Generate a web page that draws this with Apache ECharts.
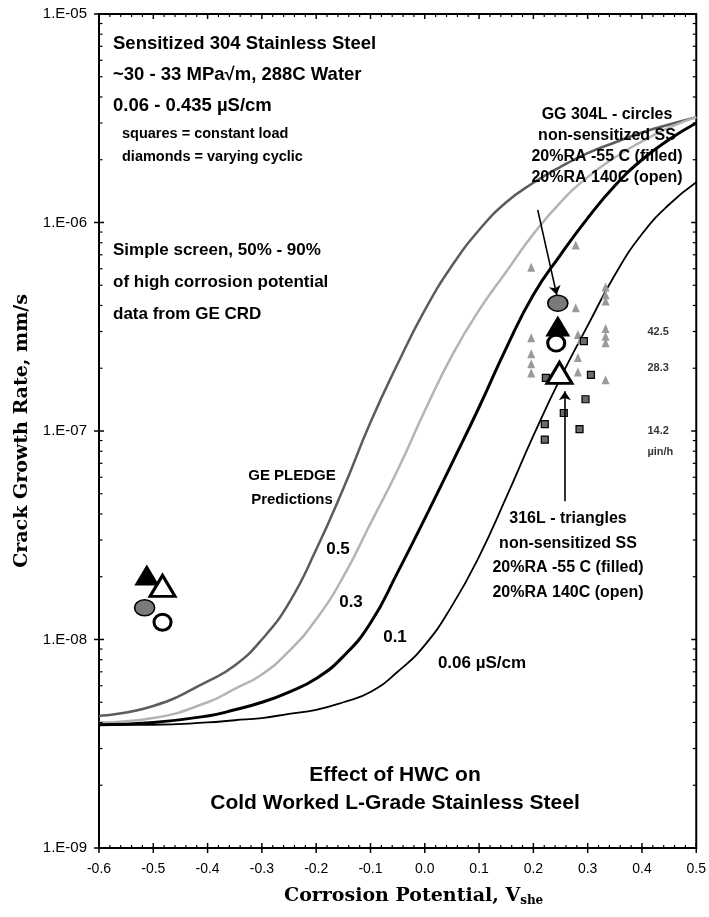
<!DOCTYPE html>
<html>
<head>
<meta charset="utf-8">
<script src="https://cdn.jsdelivr.net/npm/echarts@6/dist/echarts.min.js"></script>
<style>
  html, body { margin: 0; padding: 0; background: #fff; }
  #chart { width: 709px; height: 917px; }
</style>
</head>
<body>
<div id="chart"></div>
<script>
// Corrosion potential grid (V she) for the PLEDGE prediction curves
const potentials = [-0.6, -0.5, -0.4, -0.35, -0.3, -0.25, -0.2, -0.15, -0.1, -0.05, 0, 0.05, 0.1, 0.15, 0.2, 0.25, 0.3, 0.35, 0.4, 0.45, 0.5];
// Predicted crack growth rate (mm/s) for each water conductivity
const pledge05  = [4.3e-9, 4.8e-9, 6.3e-9, 7.5e-9, 1.0e-8, 1.5e-8, 2.7e-8, 5.3e-8, 1.1e-7, 2.1e-7, 3.8e-7, 6.2e-7, 9.2e-7, 1.25e-6, 1.55e-6, 1.85e-6, 2.15e-6, 2.42e-6, 2.7e-6, 2.95e-6, 3.2e-6];
const pledge03  = [4.0e-9, 4.2e-9, 5.0e-9, 5.8e-9, 6.8e-9, 8.8e-9, 1.25e-8, 2.0e-8, 3.6e-8, 6.5e-8, 1.25e-7, 2.3e-7, 3.8e-7, 5.8e-7, 8.8e-7, 1.25e-6, 1.65e-6, 2.05e-6, 2.45e-6, 2.85e-6, 3.2e-6];
const pledge01  = [3.9e-9, 4.0e-9, 4.3e-9, 4.6e-9, 5.0e-9, 5.6e-9, 6.5e-9, 8.3e-9, 1.2e-8, 2.1e-8, 3.8e-8, 7.0e-8, 1.3e-7, 2.5e-7, 4.5e-7, 7.0e-7, 1.05e-6, 1.5e-6, 2.0e-6, 2.5e-6, 3.0e-6];
const pledge006 = [3.9e-9, 3.9e-9, 4.0e-9, 4.1e-9, 4.2e-9, 4.4e-9, 4.6e-9, 5.0e-9, 5.6e-9, 7.0e-9, 9.4e-9, 1.45e-8, 2.5e-8, 4.8e-8, 9.5e-8, 1.8e-7, 3.2e-7, 5.6e-7, 8.8e-7, 1.22e-6, 1.56e-6];

// GE CRD high-potential screening data, sensitized 304 SS
const crdCyclicData = [
  [0.278, 7.8e-7], [0.196, 6.1e-7], [0.333, 4.9e-7], [0.333, 4.5e-7], [0.333, 4.2e-7],
  [0.278, 3.9e-7], [0.196, 2.8e-7], [0.282, 2.9e-7], [0.287, 2.75e-7], [0.333, 3.1e-7],
  [0.333, 2.85e-7], [0.333, 2.65e-7], [0.196, 2.35e-7], [0.196, 2.1e-7], [0.196, 1.9e-7],
  [0.282, 2.25e-7], [0.282, 1.92e-7], [0.333, 1.76e-7]
];
const crdConstantData = [
  [0.251, 2.64e-7], [0.293, 2.7e-7], [0.306, 1.86e-7], [0.223, 1.8e-7], [0.296, 1.42e-7],
  [0.256, 1.22e-7], [0.221, 1.08e-7], [0.285, 1.02e-7], [0.221, 9.1e-8]
];

// Cold worked L-grade specimens
const gg304LFilled = [[-0.516, 1.42e-8], [0.245, 4.1e-7]];
const gg304LOpen   = [[-0.483, 1.21e-8], [0.242, 2.64e-7]];
const t316LFilled  = [[-0.512, 2.04e-8], [0.245, 3.19e-7]];
const t316LOpen    = [[-0.483, 1.81e-8], [0.248, 1.9e-7]];

// Reference growth rates in micro-inch per hour
const rateMarksUinH = [42.5, 28.3, 14.2];

// Axis ticks
const xTickValues = [-0.6, -0.5, -0.4, -0.3, -0.2, -0.1, 0.0, 0.1, 0.2, 0.3, 0.4, 0.5];
const yDecades = [1e-9, 1e-8, 1e-7, 1e-6, 1e-5];

const SANS = '"Liberation Sans", Arial, sans-serif';
const SERIF = '"DejaVu Serif", serif';

const pairs = (ys) => potentials.map((x, i) => [x, ys[i]]);
const toMmPerSec = (uinh) => uinh * 1e-6 * 25.4 / 3600;

function frameTicks(params, api) {
  const children = [];
  const bl = api.coord([-0.6, 1e-9]);
  const tr = api.coord([0.5, 1e-5]);
  const seg = (ax, ay, bx, by, w) => children.push({
    type: 'line', shape: { x1: ax, y1: ay, x2: bx, y2: by },
    style: { stroke: '#000', lineWidth: w }
  });
  // x axis: major ticks cross bottom, minor ticks point inward
  for (let i = 0; i < xTickValues.length; i++) {
    const px = api.coord([xTickValues[i], 1e-9])[0];
    seg(px, bl[1] - 5, px, bl[1] + 5, 1.5);
    seg(px, tr[1], px, tr[1] + 5, 1.5);
  }
  for (let k = 0; k < 55; k++) {
    if (k % 5 === 0) continue;
    const px = api.coord([-0.6 + k * 0.02, 1e-9])[0];
    seg(px, bl[1], px, bl[1] - 3, 1.2);
    seg(px, tr[1], px, tr[1] + 3, 1.2);
  }
  // y axis: decades cross left, 2..9 minors point inward
  yDecades.forEach((d) => {
    const py = api.coord([-0.6, d])[1];
    seg(bl[0] - 5, py, bl[0] + 5, py, 1.5);
    seg(tr[0], py, tr[0] - 5, py, 1.5);
  });
  for (let j = 0; j < yDecades.length - 1; j++) {
    for (let m = 2; m <= 9; m++) {
      const py = api.coord([-0.6, m * yDecades[j]])[1];
      seg(bl[0], py, bl[0] + 3.5, py, 1.2);
      seg(tr[0], py, tr[0] - 3.5, py, 1.2);
    }
  }
  return { type: 'group', children };
}

function text(str, x, y, size, align) {
  return {
    type: 'text', x, y, z: 50,
    style: {
      text: str, font: 'bold ' + size + 'px ' + SANS, fill: '#000',
      textAlign: align || 'left', textVerticalAlign: 'middle',
      align: align || 'left', verticalAlign: 'middle'
    }
  };
}

const chart = echarts.init(document.getElementById('chart'), null, { renderer: 'canvas' });

chart.setOption({
  animation: false,
  backgroundColor: '#fff',
  grid: { left: 99, right: 11, top: 14, bottom: 69, show: true, borderColor: '#000', borderWidth: 2 },
  xAxis: {
    type: 'value', min: -0.6, max: 0.5, interval: 0.1,
    axisLine: { show: true, onZero: false, lineStyle: { color: '#000', width: 2 } },
    axisTick: { show: false }, splitLine: { show: false },
    axisLabel: { color: '#000', fontFamily: SANS, fontSize: 14, margin: 14, formatter: (v) => v.toFixed(1) },
    name: '{a|Corrosion Potential, V}{s|she}', nameLocation: 'middle', nameGap: 38,
    nameTextStyle: {
      padding: [0, 0, 0, 32],
      rich: {
        a: { fontFamily: SERIF, fontWeight: 'bold', fontSize: 19, color: '#000' },
        s: { fontFamily: SERIF, fontWeight: 'bold', fontSize: 12, color: '#000', padding: [9, 0, 0, 0] }
      }
    }
  },
  yAxis: {
    type: 'log', logBase: 10, min: 1e-9, max: 1e-5,
    axisLine: { show: true, onZero: false, lineStyle: { color: '#000', width: 2 } },
    axisTick: { show: false }, splitLine: { show: false }, minorTick: { show: false },
    axisLabel: {
      color: '#000', fontFamily: SANS, fontSize: 15, margin: 12,
      formatter: (v) => '1.E-' + String(Math.round(-Math.log10(v))).padStart(2, '0')
    },
    name: 'Crack Growth Rate, mm/s', nameLocation: 'middle', nameGap: 62, nameRotate: 90,
    nameTextStyle: { fontFamily: SERIF, fontWeight: 'bold', fontSize: 19, color: '#000' }
  },
  series: [
    { name: '0.5', type: 'line', data: pairs(pledge05), smooth: true, symbol: 'none', lineStyle: { color: '#5c5c5c', width: 2.5 }, z: 3 },
    { name: '0.3', type: 'line', data: pairs(pledge03), smooth: true, symbol: 'none', lineStyle: { color: '#b4b4b4', width: 2.5 }, z: 3 },
    { name: '0.1', type: 'line', data: pairs(pledge01), smooth: true, symbol: 'none', lineStyle: { color: '#000', width: 3 }, z: 4 },
    { name: '0.06', type: 'line', data: pairs(pledge006), smooth: true, symbol: 'none', lineStyle: { color: '#000', width: 1.8 }, z: 4 },
    { name: 'varying cyclic', type: 'scatter', data: crdCyclicData, symbol: 'triangle', symbolSize: [8, 9],
      itemStyle: { color: '#9a9a9a', opacity: 1 }, z: 5 },
    { name: 'constant load', type: 'scatter', data: crdConstantData, symbol: 'rect', symbolSize: 7,
      itemStyle: { color: '#6a6a6a', borderColor: '#000', borderWidth: 1.2, opacity: 1 }, z: 5 },
    { name: 'GG 304L -55 C', type: 'scatter', data: gg304LFilled, symbol: 'circle', symbolSize: [20, 16],
      itemStyle: { color: '#7a7a7a', borderColor: '#000', borderWidth: 1.5, opacity: 1 }, z: 6 },
    { name: 'GG 304L 140C', type: 'scatter', data: gg304LOpen, symbol: 'circle', symbolSize: [17, 16],
      itemStyle: { color: '#fff', borderColor: '#000', borderWidth: 3, opacity: 1 }, z: 6 },
    { name: '316L -55 C', type: 'scatter', data: t316LFilled, symbol: 'triangle', symbolSize: [25, 21],
      itemStyle: { color: '#000', opacity: 1 }, z: 7 },
    { name: '316L 140C', type: 'scatter', data: t316LOpen, symbol: 'triangle', symbolSize: [25, 21],
      itemStyle: { color: '#fff', borderColor: '#000', borderWidth: 3, opacity: 1 }, z: 7 },
    { name: 'rate marks', type: 'scatter', symbolSize: 0, silent: true,
      data: rateMarksUinH.map((r) => [0.41, toMmPerSec(r), r]),
      label: { show: true, position: 'right', distance: 0, formatter: (p) => p.value[2].toFixed(1),
               fontFamily: SANS, fontWeight: 'bold', fontSize: 11, color: '#000' }, z: 8 },
    { name: 'rate unit', type: 'scatter', symbolSize: 0, silent: true,
      data: [[0.41, 7.9e-8]],
      label: { show: true, position: 'right', distance: 0, formatter: 'µin/h',
               fontFamily: SANS, fontWeight: 'bold', fontSize: 11, color: '#000' }, z: 8 },
    { name: 'pointers', type: 'lines', coordinateSystem: 'cartesian2d', silent: true,
      symbol: ['none', 'arrow'], symbolSize: 9,
      lineStyle: { color: '#000', width: 1.6, opacity: 1 },
      data: [
        { coords: [[0.208, 1.15e-6], [0.243, 4.5e-7]] },
        { coords: [[0.258, 4.6e-8], [0.258, 1.55e-7]] }
      ], z: 8 },
    { name: 'frame', type: 'custom', renderItem: frameTicks, data: [[0, 1e-7]], clip: false, silent: true, z: 20 }
  ],
  graphic: [
    text('Sensitized 304 Stainless Steel', 113, 44, 18.5),
    text('~30 - 33 MPa\u221Am, 288C Water', 113, 75, 18.5),
    text('0.06 - 0.435 \u00B5S/cm', 113, 106, 18.5),
    text('squares = constant load', 122, 134, 14.5),
    text('diamonds = varying cyclic', 122, 157, 14.5),
    text('Simple screen, 50% - 90%', 113, 250, 17),
    text('of high corrosion potential', 113, 282, 17),
    text('data from GE CRD', 113, 314, 17),
    text('GG 304L - circles', 607, 115, 16, 'center'),
    text('non-sensitized SS', 607, 136, 16, 'center'),
    text('20%RA -55 C (filled)', 607, 157, 16, 'center'),
    text('20%RA 140C (open)', 607, 178, 16, 'center'),
    text('GE PLEDGE', 292, 476, 15, 'center'),
    text('Predictions', 292, 500, 15, 'center'),
    text('0.5', 338, 549, 17, 'center'),
    text('0.3', 351, 602, 17, 'center'),
    text('0.1', 395, 637, 17, 'center'),
    text('0.06 \u00B5S/cm', 482, 663, 17, 'center'),
    text('316L - triangles', 568, 519, 16, 'center'),
    text('non-sensitized SS', 568, 544, 16, 'center'),
    text('20%RA -55 C (filled)', 568, 568, 16, 'center'),
    text('20%RA 140C (open)', 568, 593, 16, 'center'),
    text('Effect of HWC on', 395, 775, 21, 'center'),
    text('Cold Worked L-Grade Stainless Steel', 395, 803, 21, 'center')
  ]
});
</script>
</body>
</html>
